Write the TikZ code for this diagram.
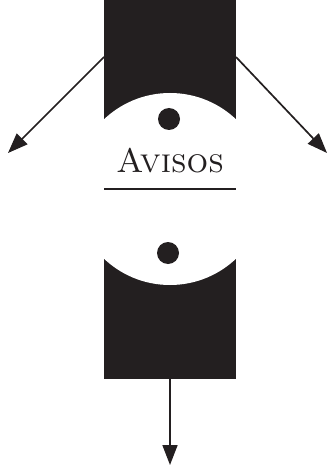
\documentclass[tikz,border=0pt]{standalone}
\usepackage{fontspec}
\usetikzlibrary{arrows.meta}
\definecolor{ink}{HTML}{231F20}
\begin{document}
\begin{tikzpicture}[x=1pt,y=-1pt,
  arrowline/.style={draw=ink,line width=1.7pt,-{Triangle[length=20pt,width=15pt]}},
  dot/.style={circle,fill=ink,inner sep=0pt,minimum size=22pt}]
\useasboundingbox (0,0) rectangle (327,465);
\fill[ink] (104,0) rectangle (236,379);
\begin{scope}
  \clip (104,0) rectangle (236,379);
  \fill[white] (170,189) circle (96);
\end{scope}
\node[dot] (d1) at (169,119) {};
\node[dot] (d2) at (168,253) {};
\node[font=\fontsize{34}{38}\selectfont,text=ink,inner sep=0pt,anchor=base] (t) at (170,172) {\textsc{Avisos}};
\draw[ink,line width=2.2pt] (104,189) -- (236,189);
\coordinate (sl) at (104,57);
\coordinate (el) at (8,153);
\coordinate (sr) at (236,57);
\coordinate (er) at (327,153);
\coordinate (sb) at (170,379);
\coordinate (eb) at (170,465);
\draw[arrowline] (sl) -- (el);
\draw[arrowline] (sr) -- (er);
\draw[arrowline] (sb) -- (eb);
\end{tikzpicture}
\end{document}
